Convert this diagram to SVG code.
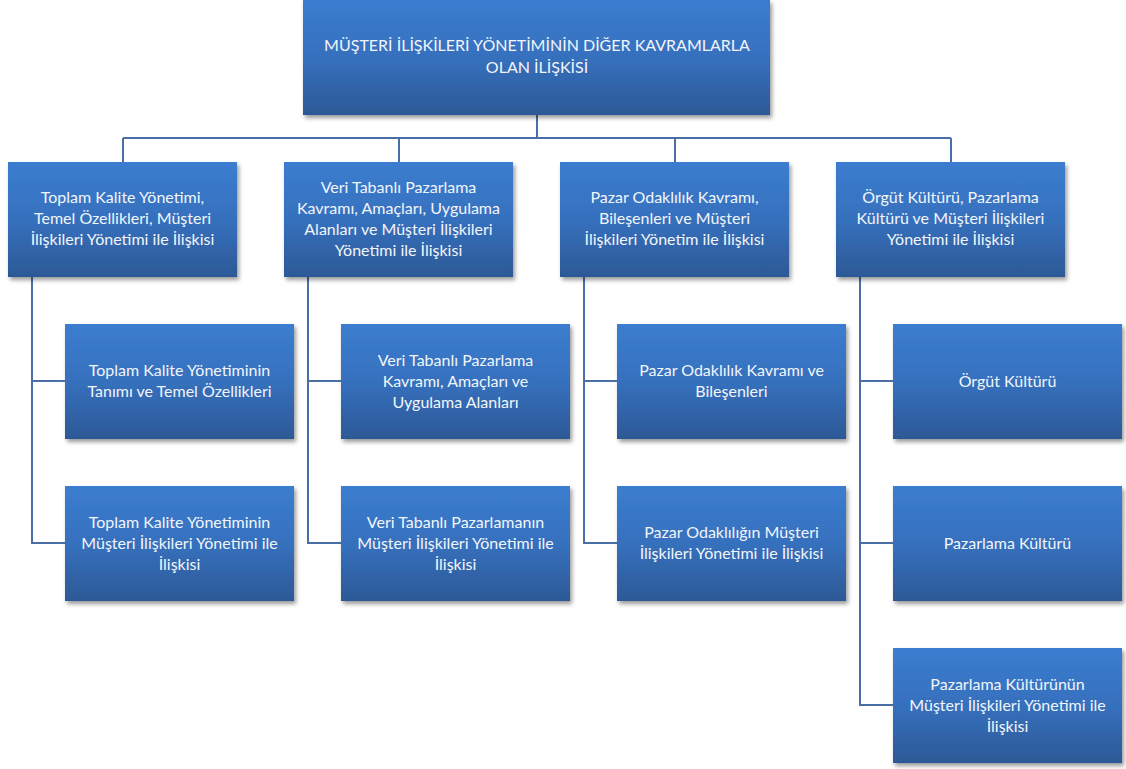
<svg xmlns="http://www.w3.org/2000/svg" width="1126" height="769" viewBox="0 0 1126 769">
<defs>
<linearGradient id="g" x1="0" y1="0" x2="0" y2="1">
<stop offset="0" stop-color="#3b7dd0"/>
<stop offset="0.5" stop-color="#3670bd"/>
<stop offset="1" stop-color="#2c5996"/>
</linearGradient>
<filter id="sh" x="-10%" y="-10%" width="125%" height="130%">
<feDropShadow dx="2" dy="3" stdDeviation="2.2" flood-color="#000" flood-opacity="0.4"/>
</filter>
<style>
.box{fill:url(#g);filter:url(#sh)}
.t{font-family:Lato,"Open Sans","Liberation Sans",sans-serif;font-size:16px;fill:#f2f5fa;text-anchor:middle}
.c{fill:none;stroke:#4a6fa6;stroke-width:2}
</style>
</defs>
<g id="connectors">
<path class="c" d="M537 115V138M123 138H951M123 138V162M399 138V162M675 138V162M951 138V162"/>
<path class="c" d="M32 277V543H65M32 381H65"/>
<path class="c" d="M308 277V543H341M308 381H341"/>
<path class="c" d="M584 277V543H617M584 381H617"/>
<path class="c" d="M860 277V705H893M860 381H893M860 543H893"/>
</g>
<g id="root"><rect class="box" x="303" y="0" width="467" height="115"/>
<text class="t" x="537" y="51">MÜŞTERİ İLİŞKİLERİ YÖNETİMİNİN DİĞER KAVRAMLARLA</text>
<text class="t" x="537" y="73">OLAN İLİŞKİSİ</text></g>
<g id="n1"><rect class="box" x="8" y="162" width="229" height="115"/>
<text class="t" x="122.5" y="203">Toplam Kalite Yönetimi,</text>
<text class="t" x="122.5" y="224">Temel Özellikleri, Müşteri</text>
<text class="t" x="122.5" y="245">İlişkileri Yönetimi ile İlişkisi</text></g>
<g id="n2"><rect class="box" x="284" y="162" width="229" height="115"/>
<text class="t" x="398.5" y="193">Veri Tabanlı Pazarlama</text>
<text class="t" x="398.5" y="214">Kavramı, Amaçları, Uygulama</text>
<text class="t" x="398.5" y="235">Alanları ve Müşteri İlişkileri</text>
<text class="t" x="398.5" y="256">Yönetimi ile İlişkisi</text></g>
<g id="n3"><rect class="box" x="560" y="162" width="229" height="115"/>
<text class="t" x="674.5" y="203">Pazar Odaklılık Kavramı,</text>
<text class="t" x="674.5" y="224">Bileşenleri ve Müşteri</text>
<text class="t" x="674.5" y="245">İlişkileri Yönetim ile İlişkisi</text></g>
<g id="n4"><rect class="box" x="836" y="162" width="229" height="115"/>
<text class="t" x="950.5" y="203">Örgüt Kültürü, Pazarlama</text>
<text class="t" x="950.5" y="224">Kültürü ve Müşteri İlişkileri</text>
<text class="t" x="950.5" y="245">Yönetimi ile İlişkisi</text></g>
<g id="n1a"><rect class="box" x="65" y="324" width="229" height="115"/>
<text class="t" x="179.5" y="376">Toplam Kalite Yönetiminin</text>
<text class="t" x="179.5" y="397">Tanımı ve Temel Özellikleri</text></g>
<g id="n1b"><rect class="box" x="65" y="486" width="229" height="115"/>
<text class="t" x="179.5" y="528">Toplam Kalite Yönetiminin</text>
<text class="t" x="179.5" y="549">Müşteri İlişkileri Yönetimi ile</text>
<text class="t" x="179.5" y="570">İlişkisi</text></g>
<g id="n2a"><rect class="box" x="341" y="324" width="229" height="115"/>
<text class="t" x="455.5" y="366">Veri Tabanlı Pazarlama</text>
<text class="t" x="455.5" y="387">Kavramı, Amaçları ve</text>
<text class="t" x="455.5" y="408">Uygulama Alanları</text></g>
<g id="n2b"><rect class="box" x="341" y="486" width="229" height="115"/>
<text class="t" x="455.5" y="528">Veri Tabanlı Pazarlamanın</text>
<text class="t" x="455.5" y="549">Müşteri İlişkileri Yönetimi ile</text>
<text class="t" x="455.5" y="570">İlişkisi</text></g>
<g id="n3a"><rect class="box" x="617" y="324" width="229" height="115"/>
<text class="t" x="731.5" y="376">Pazar Odaklılık Kavramı ve</text>
<text class="t" x="731.5" y="397">Bileşenleri</text></g>
<g id="n3b"><rect class="box" x="617" y="486" width="229" height="115"/>
<text class="t" x="731.5" y="538">Pazar Odaklılığın Müşteri</text>
<text class="t" x="731.5" y="559">İlişkileri Yönetimi ile İlişkisi</text></g>
<g id="n4a"><rect class="box" x="893" y="324" width="229" height="115"/>
<text class="t" x="1007.5" y="387">Örgüt Kültürü</text></g>
<g id="n4b"><rect class="box" x="893" y="486" width="229" height="115"/>
<text class="t" x="1007.5" y="549">Pazarlama Kültürü</text></g>
<g id="n4c"><rect class="box" x="893" y="648" width="229" height="115"/>
<text class="t" x="1007.5" y="690">Pazarlama Kültürünün</text>
<text class="t" x="1007.5" y="711">Müşteri İlişkileri Yönetimi ile</text>
<text class="t" x="1007.5" y="732">İlişkisi</text></g>
</svg>
